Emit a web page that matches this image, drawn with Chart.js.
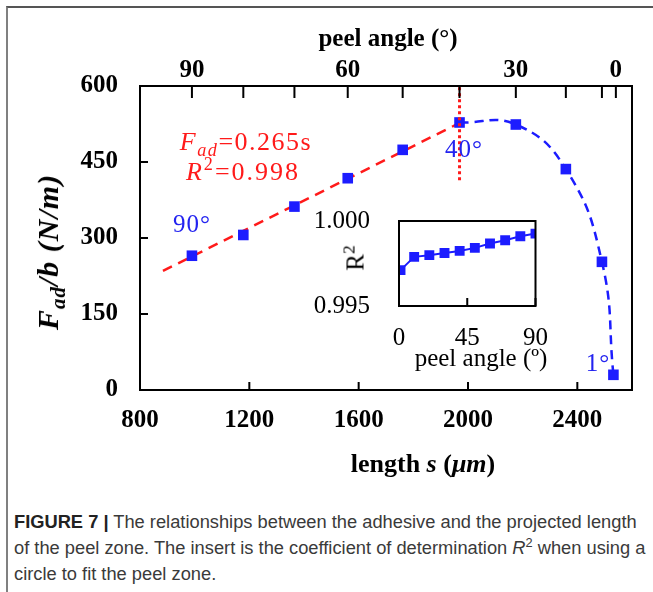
<!DOCTYPE html>
<html>
<head>
<meta charset="utf-8">
<script src="https://cdn.jsdelivr.net/npm/chart.js@4.4.0/dist/chart.umd.min.js"></script>
<style>
  body { margin: 0; background: #fff; }
  #page { position: relative; width: 653px; height: 592px; overflow: hidden; background: #fff; }
  #frame { position: absolute; left: 6px; top: 6px; width: 800px; height: 800px; border-left: 2px solid #808080; border-top: 2px solid #555; }
  #mainWrap { position: absolute; left: 0; top: 0; line-height: 0; }
  #insetWrap { position: absolute; left: 300px; top: 177px; line-height: 0; }
  canvas { display: block; }
  .lbl { position: absolute; transform: translate(-50%, -50%); white-space: nowrap; font-family: 'Liberation Serif', 'Times New Roman', serif; line-height: 1; }
  .axisTitle { font-weight: bold; font-size: 25px; color: #000; }
  .red { color: #ff1a1a; font-size: 26px; letter-spacing: 1.5px; }
  .blue { color: #2323f0; font-size: 25px; letter-spacing: 1px; }
  .inset { font-size: 25px; color: #000; }
  sub, sup { font-size: 70%; line-height: 0; }
  #caption { position: absolute; left: 14px; top: 509px; font-family: 'Liberation Sans', Arial, sans-serif; font-size: 18.3px; line-height: 26px; color: #3a3a3a; white-space: nowrap; }
  #caption b { color: #222; }
</style>
</head>
<body>
<div id="page">
  <div id="frame"></div>
  <div id="mainWrap"><canvas id="mainChart" width="653" height="490"></canvas></div>
  <div id="insetWrap"><canvas id="insetChart" width="265" height="193"></canvas></div>

  <div class="lbl axisTitle" style="left:388px; top:37px;">peel angle (°)</div>
  <div class="lbl axisTitle" style="left:48px; top:252px; transform:translate(-50%,-50%) rotate(-90deg); font-style:italic; font-size:30px; letter-spacing:1px;">F<sub>ad</sub>/b (N/m)</div>
  <div class="lbl axisTitle" style="left:423px; top:464px; font-size:26px;">length <i>s</i> (<i>μm</i>)</div>

  <div class="lbl red" style="left:246px; top:142px;"><i>F<sub>ad</sub></i>=0.265s</div>
  <div class="lbl red" style="left:243px; top:172px; letter-spacing:2px;"><i>R</i><sup>2</sup>=0.998</div>
  <div class="lbl blue" style="left:192px; top:223px;">90°</div>
  <div class="lbl blue" style="left:464px; top:148px;">40°</div>
  <div class="lbl blue" style="left:598px; top:362px;">1°</div>

  <div class="lbl inset" style="left:355px; top:258px; transform:translate(-50%,-50%) rotate(-90deg);">R<sup>2</sup></div>
  <div class="lbl inset" style="left:481px; top:357px;">peel angle (º)</div>

  <div id="caption"><b>FIGURE 7 |</b> The relationships between the adhesive and the projected length<br>of the peel zone. The insert is the coefficient of determination <i>R</i><sup>2</sup> when using a<br>circle to fit the peel zone.</div>
</div>

<script>
// peel test points
const peelS = [990, 1178, 1365, 1560, 1761, 1969, 2175, 2358, 2490, 2532];
const peelF = [265, 306, 362, 418, 474, 528, 524, 436, 253, 30];
const peelAngles = [90, 80, 70, 60, 50, 40, 30, 20, 10, 1];

// red linear fit (F = 0.265 s) and the dotted marker at 40 deg
const fitS = [884, 1969];
const fitF = [235, 527];
const markerS = [1969, 1969];
const markerF = [414, 600];

// axes
const lengthTicks = [800, 1200, 1600, 2000, 2400];
const forceTicks = [0, 150, 300, 450, 600];
const angleTickS = [990, 1178, 1365, 1560, 1761, 1969, 2175, 2358, 2490, 2541];
const angleTickLabels = ['90', '', '', '60', '', '', '30', '', '', '0'];

// insert: R^2 of the circle fit vs peel angle
const insetAngles = [1, 10, 20, 30, 40, 50, 60, 70, 80, 90];
const insetR2 = [0.99711, 0.99789, 0.99799, 0.99812, 0.99824, 0.99842, 0.99868, 0.99887, 0.99910, 0.99926];
const insetAngleTicks = [0, 45, 90];
const insetR2Ticks = [0.995, 1.000];

const BLUE = '#1c1cff';
const RED = '#ff1a1a';
const tickFont = { family: 'Liberation Serif', size: 25, weight: 'bold' };

// box round the plot area plus inward tick marks
const boxTicks = {
    id: 'boxTicks',
    afterDatasetsDraw(chart, args, opts) {
        let ctx = chart.ctx;
        let a = chart.chartArea;
        ctx.save();
        ctx.strokeStyle = '#000';
        ctx.lineWidth = 2;
        ctx.strokeRect(a.left, a.top, a.right - a.left, a.bottom - a.top);
        ctx.beginPath();
        opts.marks.forEach(m => {
            let scale = chart.scales[m.axis];
            scale.ticks.forEach(t => {
                let p = scale.getPixelForValue(t.value);
                if (m.side == 'bottom') {
                    ctx.moveTo(p, a.bottom); ctx.lineTo(p, a.bottom - m.len);
                } else if (m.side == 'top') {
                    ctx.moveTo(p, a.top); ctx.lineTo(p, a.top + m.len);
                } else if (m.side == 'left') {
                    ctx.moveTo(a.left, p); ctx.lineTo(a.left + m.len, p);
                }
            });
        });
        ctx.stroke();
        ctx.restore();
    }
};

function toPoints(xs, ys) {
    return xs.map((x, i) => ({ x: x, y: ys[i] }));
}

new Chart(document.getElementById('mainChart'), {
    type: 'scatter',
    data: {
        datasets: [
            {
                label: '40 deg marker',
                data: toPoints(markerS, markerF),
                showLine: true,
                borderColor: RED,
                borderWidth: 3,
                borderDash: [3, 3],
                pointRadius: 0,
                order: 0,
            },
            {
                label: 'measured',
                data: toPoints(peelS, peelF),
                showLine: false,
                pointStyle: 'rect',
                pointRadius: 7.5,
                pointBackgroundColor: BLUE,
                pointBorderWidth: 0,
                order: 1,
            },
            {
                label: 'linear fit',
                data: toPoints(fitS, fitF),
                showLine: true,
                borderColor: RED,
                borderWidth: 2.5,
                borderDash: [10, 7],
                pointRadius: 0,
                order: 2,
            },
            {
                label: 'peel curve',
                data: toPoints(peelS.slice(5), peelF.slice(5)),
                showLine: true,
                tension: 0.45,
                borderColor: BLUE,
                borderWidth: 2.5,
                borderDash: [9, 6],
                pointRadius: 0,
                order: 3,
            },
        ],
    },
    options: {
        responsive: false,
        animation: false,
        layout: { padding: { left: 0, right: 21, top: 0, bottom: 0 } },
        plugins: {
            legend: { display: false },
            tooltip: { enabled: false },
            boxTicks: {
                marks: [
                    { axis: 'x', side: 'bottom', len: 8 },
                    { axis: 'y', side: 'left', len: 8 },
                    { axis: 'x2', side: 'top', len: 12 },
                ],
            },
        },
        scales: {
            x: {
                type: 'linear',
                position: 'bottom',
                min: 800,
                max: 2600,
                afterBuildTicks: (scale) => { scale.ticks = lengthTicks.map(v => ({ value: v })); },
                afterFit: (scale) => { scale.height = 100; },
                grid: { display: false, drawTicks: false },
                border: { display: false },
                ticks: {
                    font: tickFont, color: '#000', padding: 16, autoSkip: false, maxRotation: 0,
                    callback: (value) => String(value),
                },
            },
            x2: {
                type: 'linear',
                position: 'top',
                min: 800,
                max: 2600,
                afterBuildTicks: (scale) => { scale.ticks = angleTickS.map(v => ({ value: v })); },
                afterFit: (scale) => { scale.height = 86; },
                grid: { display: false, drawTicks: false },
                border: { display: false },
                ticks: {
                    font: tickFont, color: '#000', padding: 0, autoSkip: false, maxRotation: 0,
                    callback: (value, index) => angleTickLabels[index],
                },
            },
            y: {
                type: 'linear',
                min: 0,
                max: 600,
                afterBuildTicks: (scale) => { scale.ticks = forceTicks.map(v => ({ value: v })); },
                afterFit: (scale) => { scale.width = 140; },
                grid: { display: false, drawTicks: false },
                border: { display: false },
                ticks: { font: tickFont, color: '#000', padding: 22 },
            },
        },
    },
    plugins: [boxTicks],
});

new Chart(document.getElementById('insetChart'), {
    type: 'scatter',
    data: {
        datasets: [
            {
                label: 'R2',
                data: toPoints(insetAngles, insetR2),
                showLine: true,
                borderColor: BLUE,
                borderWidth: 2,
                pointStyle: 'rect',
                pointRadius: 7,
                pointBackgroundColor: BLUE,
                pointBorderWidth: 0,
            },
        ],
    },
    options: {
        responsive: false,
        animation: false,
        layout: { padding: 0 },
        plugins: {
            legend: { display: false },
            tooltip: { enabled: false },
            boxTicks: { marks: [{ axis: 'x', side: 'bottom', len: 8 }] },
        },
        scales: {
            x: {
                type: 'linear',
                min: 0,
                max: 90,
                afterBuildTicks: (scale) => { scale.ticks = insetAngleTicks.map(v => ({ value: v })); },
                afterFit: (scale) => { scale.height = 64; },
                grid: { display: false, drawTicks: false },
                border: { display: false },
                ticks: { font: { family: 'Liberation Serif', size: 25 }, color: '#000', padding: 17, autoSkip: false, maxRotation: 0 },
            },
            y: {
                type: 'linear',
                min: 0.995,
                max: 1.000,
                afterBuildTicks: (scale) => { scale.ticks = insetR2Ticks.map(v => ({ value: v })); },
                afterFit: (scale) => { scale.width = 99; },
                grid: { display: false, drawTicks: false },
                border: { display: false },
                ticks: {
                    font: { family: 'Liberation Serif', size: 25 }, color: '#000', padding: 29,
                    callback: (value) => value.toFixed(3),
                },
            },
        },
    },
    plugins: [boxTicks],
});
</script>
</body>
</html>
